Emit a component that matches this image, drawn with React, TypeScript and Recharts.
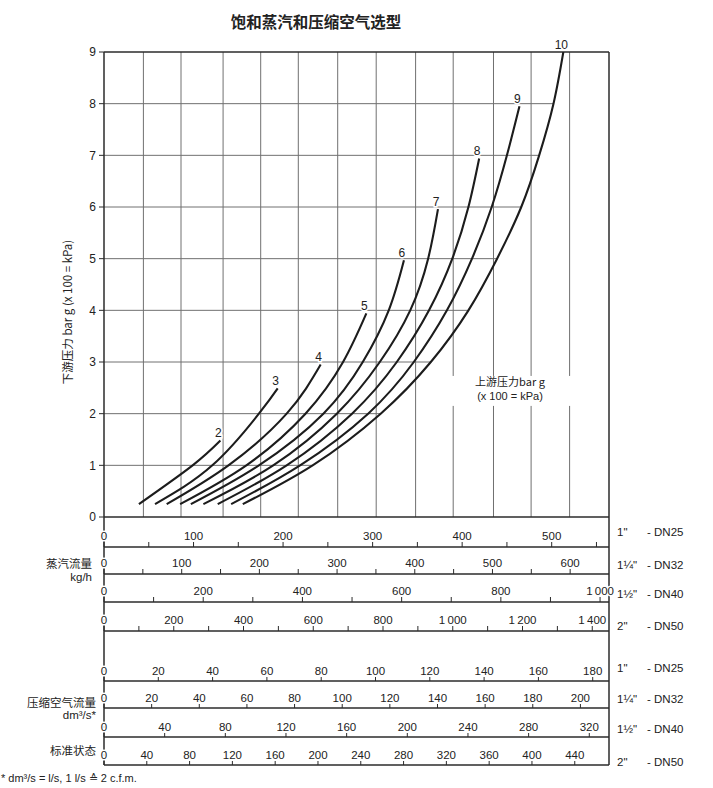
import React from 'react';
import { ComposedChart, LineChart, Line, XAxis, YAxis, ReferenceLine, ReferenceDot } from 'recharts';

const FONT = "'Liberation Sans', Arial, 'Noto Sans CJK SC', sans-serif";
const CJK = "'Noto Sans CJK SC', 'Liberation Sans', sans-serif";

// upstream pressure curves: flow on the 1" steam scale (kg/h) vs downstream pressure (bar g)
const curveNames = ['2', '3', '4', '5', '6', '7', '8', '9', '10'];
const flow2 = [39, 99, 130];
const pres2 = [0.25, 1, 1.48];
const flow3 = [57, 121, 173, 194];
const pres3 = [0.25, 1, 2, 2.49];
const flow4 = [70, 139, 204, 242];
const pres4 = [0.25, 1, 2, 2.95];
const flow5 = [85, 159, 225, 267, 293];
const pres5 = [0.25, 1, 2, 3, 3.94];
const flow6 = [97, 173, 245, 289, 318, 335];
const pres6 = [0.25, 1, 2, 3, 4, 4.97];
const flow7 = [111, 189, 260, 308, 342, 362, 373];
const pres7 = [0.25, 1, 2, 3, 4, 5, 5.96];
const flow8 = [127, 204, 277, 327, 363, 389, 407, 419];
const pres8 = [0.25, 1, 2, 3, 4, 5, 6, 6.94];
const flow9 = [142, 219, 295, 346, 383, 411, 433, 450, 464];
const pres9 = [0.25, 1, 2, 3, 4, 5, 6, 7, 7.95];
const flow10 = [155, 233, 309, 365, 407, 439, 466, 486, 502, 513];
const pres10 = [0.25, 1, 2, 3, 4, 5, 6, 7, 8, 9];

const curveFlows = [flow2, flow3, flow4, flow5, flow6, flow7, flow8, flow9, flow10];
const curvePres = [pres2, pres3, pres4, pres5, pres6, pres7, pres8, pres9, pres10];

const pressureTicks = [0, 1, 2, 3, 4, 5, 6, 7, 8, 9];
const gridFlows = [44, 86, 133, 175, 217, 261, 304, 348, 390, 435, 477, 520];
const flowMax = 564;
const labelGap = [2.15, 2.73]; // where the right-hand grid lines stop for the annotation

// steam flow scales, kg/h
const steam25Ticks = [0, 50, 100, 150, 200, 250, 300, 350, 400, 450, 500, 550];
const steam25Labels = [0, 100, 200, 300, 400, 500];
const steam32Ticks = [0, 50, 100, 150, 200, 250, 300, 350, 400, 450, 500, 550, 600];
const steam32Labels = [0, 100, 200, 300, 400, 500, 600];
const steam40Ticks = [0, 100, 200, 300, 400, 500, 600, 700, 800, 900, 1000];
const steam40Labels = [0, 200, 400, 600, 800, 1000];
const steam50Ticks = [0, 100, 200, 300, 400, 500, 600, 700, 800, 900, 1000, 1100, 1200, 1300, 1400];
const steam50Labels = [0, 200, 400, 600, 800, 1000, 1200, 1400];

// compressed air scales, dm3/s
const air25Ticks = [0, 20, 40, 60, 80, 100, 120, 140, 160, 180];
const air32Ticks = [0, 20, 40, 60, 80, 100, 120, 140, 160, 180, 200];
const air40Ticks = [0, 40, 80, 120, 160, 200, 240, 280, 320];
const air50Ticks = [0, 40, 80, 120, 160, 200, 240, 280, 320, 360, 400, 440];

const pipeSizes = ['1"', '1¼"', '1½"', '2"'];
const dnSizes = ['DN25', 'DN32', 'DN40', 'DN50'];

const fmt = (v: number) =>
  v >= 1000 ? `${Math.floor(v / 1000)}\u2009${String(v % 1000).padStart(3, '0')}` : String(v);

const AXIS_H = 30;

function ScaleStrip({ lineY, max, ticks, labels, tickSize }: any) {
  const renderTick = (props: any) => {
    const { x, y, payload } = props;
    if (!labels.includes(payload.value)) return <g />;
    return (
      <text x={x} y={y} textAnchor="middle" fontSize={11.5} fill="#222" fontFamily={FONT}
        stroke="#fff" strokeWidth={3} paintOrder="stroke">
        {fmt(payload.value)}
      </text>
    );
  };
  return (
    <div style={{ position: 'absolute', left: 0, top: lineY - AXIS_H }}>
      <LineChart width={713} height={AXIS_H + 1} data={ticks.map((v: number) => ({ v }))}
        margin={{ top: 0, right: 104, bottom: 0, left: 104 }}>
        <XAxis dataKey="v" type="number" orientation="top" domain={[0, max]} allowDataOverflow
          ticks={ticks} interval={0} height={AXIS_H} tickSize={tickSize} tickMargin={2.5}
          axisLine={{ stroke: '#2b2b2b', strokeWidth: 1.6 }} tickLine={{ stroke: '#2b2b2b' }}
          tick={renderTick} />
      </LineChart>
    </div>
  );
}

function Txt({ x, y, anchor = 'start', size = 11.5, weight = 400, family = FONT, children }: any) {
  const tx = anchor === 'middle' ? '-50%' : anchor === 'end' ? '-100%' : '0';
  return (
    <div style={{
      position: 'absolute', left: x, top: y, transform: `translate(${tx}, -50%)`,
      fontSize: size, fontWeight: weight, fontFamily: family, whiteSpace: 'nowrap',
      lineHeight: 1, color: '#222',
    }}>{children}</div>
  );
}

export default function App() {
  const curves = curveFlows.map((fl, i) => fl.map((u, j) => ({ u, p: curvePres[i][j] })));
  const curve10 = curves[curves.length - 1];
  const hGrid = pressureTicks.slice(1, -1).map(k => ({ k, end: curve10.find(d => d.p === k)!.u }));

  const steamRows = [546.7, 574.3, 602.3, 631];
  const airRows = [680.7, 707.7, 736.7, 765];
  const steamSideY = [533, 566, 595, 627];
  const airSideY = [669, 700, 730, 763];

  return (
    <div style={{ position: 'relative', width: 713, height: 788, overflow: 'hidden', fontFamily: FONT }}>
      <style>{'body{margin:0}'}</style>
      <div style={{ position: 'absolute', left: 0, top: 0 }}>
        <ComposedChart width={713} height={788} margin={{ top: 52, right: 104, bottom: 23, left: 64 }}>
          <XAxis dataKey="u" type="number" domain={[0, flowMax]} allowDataOverflow hide height={0} />
          <YAxis type="number" domain={[-4.8, 9]} allowDataOverflow ticks={pressureTicks} interval={0}
            width={40} tickSize={5} tickMargin={3}
            axisLine={{ stroke: '#2b2b2b', strokeWidth: 1.5 }} tickLine={{ stroke: '#2b2b2b' }}
            tick={{ fontSize: 12, fill: '#222', fontFamily: FONT }} />

          {gridFlows.map(u => u >= 390 ? (
            [
              <ReferenceLine key={`a${u}`} segment={[{ x: u, y: 0 }, { x: u, y: labelGap[0] }]} stroke="#707070" strokeWidth={1} />,
              <ReferenceLine key={`b${u}`} segment={[{ x: u, y: labelGap[1] }, { x: u, y: 9 }]} stroke="#707070" strokeWidth={1} />,
            ]
          ) : (
            <ReferenceLine key={`v${u}`} segment={[{ x: u, y: 0 }, { x: u, y: 9 }]} stroke="#707070" strokeWidth={1} />
          ))}
          {hGrid.map(({ k, end }) => (
            <ReferenceLine key={`h${k}`} segment={[{ x: 0, y: k }, { x: end, y: k }]} stroke="#707070" strokeWidth={1} />
          ))}
          <ReferenceLine y={9} stroke="#2b2b2b" strokeWidth={1.5} />
          <ReferenceLine y={0} stroke="#2b2b2b" strokeWidth={1.6} />
          <ReferenceLine x={flowMax} stroke="#2b2b2b" strokeWidth={1.5} />

          {curves.map((data, i) => (
            <Line key={curveNames[i]} data={data} dataKey="p" type="natural" stroke="#1c1c1c"
              strokeWidth={2.1} dot={false} isAnimationActive={false} />
          ))}
          {curves.map((data, i) => {
            const last = data[data.length - 1];
            return (
              <ReferenceDot key={`l${i}`} x={last.u} y={last.p} r={0} fill="none" stroke="none"
                label={(lp: any) => {
                  const vb = lp.viewBox || {};
                  const cx = (vb.x ?? 0) + (vb.width ?? 0) / 2;
                  const cy = (vb.y ?? 0) + (vb.height ?? 0) / 2;
                  return (
                    <text x={cx - 2} y={cy - 3.5} textAnchor="middle" fontSize={12} fill="#222"
                      fontFamily={FONT} stroke="#fff" strokeWidth={3} paintOrder="stroke">
                      {curveNames[i]}
                    </text>
                  );
                }} />
            );
          })}
        </ComposedChart>
      </div>

      <ScaleStrip lineY={steamRows[0]} max={564} ticks={steam25Ticks} labels={steam25Labels} tickSize={5} />
      <ScaleStrip lineY={steamRows[1]} max={650} ticks={steam32Ticks} labels={steam32Labels} tickSize={5} />
      <ScaleStrip lineY={steamRows[2]} max={1018} ticks={steam40Ticks} labels={steam40Labels} tickSize={5} />
      <ScaleStrip lineY={steamRows[3]} max={1448} ticks={steam50Ticks} labels={steam50Labels} tickSize={5} />
      <ScaleStrip lineY={airRows[0]} max={186} ticks={air25Ticks} labels={air25Ticks} tickSize={4} />
      <ScaleStrip lineY={airRows[1]} max={212} ticks={air32Ticks} labels={air32Ticks} tickSize={4} />
      <ScaleStrip lineY={airRows[2]} max={333} ticks={air40Ticks} labels={air40Ticks} tickSize={4} />
      <ScaleStrip lineY={airRows[3]} max={472} ticks={air50Ticks} labels={air50Ticks} tickSize={4} />

      <Txt x={316} y={22} anchor="middle" size={15.5} weight={700} family={CJK}>饱和蒸汽和压缩空气选型</Txt>

      <div style={{
        position: 'absolute', left: 68, top: 312, transform: 'translate(-50%, -50%) rotate(-90deg)',
        fontSize: 11.5, fontFamily: CJK, whiteSpace: 'nowrap', lineHeight: 1, color: '#222',
      }}>下游压力 bar g (x 100 = kPa)</div>

      <Txt x={510} y={381} anchor="middle" size={11} family={CJK}>上游压力bar g</Txt>
      <Txt x={510} y={396} anchor="middle" size={11}>(x 100 = kPa)</Txt>

      {pipeSizes.map((s, i) => (
        <React.Fragment key={`s${i}`}>
          <Txt x={617} y={steamSideY[i]}>{s}</Txt>
          <Txt x={647} y={steamSideY[i]}>- {dnSizes[i]}</Txt>
          <Txt x={617} y={airSideY[i]}>{s}</Txt>
          <Txt x={647} y={airSideY[i]}>- {dnSizes[i]}</Txt>
        </React.Fragment>
      ))}

      <Txt x={92} y={564} anchor="end" size={11.5} family={CJK}>蒸汽流量</Txt>
      <Txt x={92} y={578} anchor="end" size={11.5}>kg/h</Txt>
      <Txt x={96} y={703} anchor="end" size={11.5} family={CJK}>压缩空气流量</Txt>
      <Txt x={96} y={716} anchor="end" size={11.5}>dm³/s*</Txt>
      <Txt x={96} y={751} anchor="end" size={11.5} family={CJK}>标准状态</Txt>
      <Txt x={1} y={778} size={11}>* dm³/s = l/s, 1 l/s ≙ 2 c.f.m.</Txt>
    </div>
  );
}
